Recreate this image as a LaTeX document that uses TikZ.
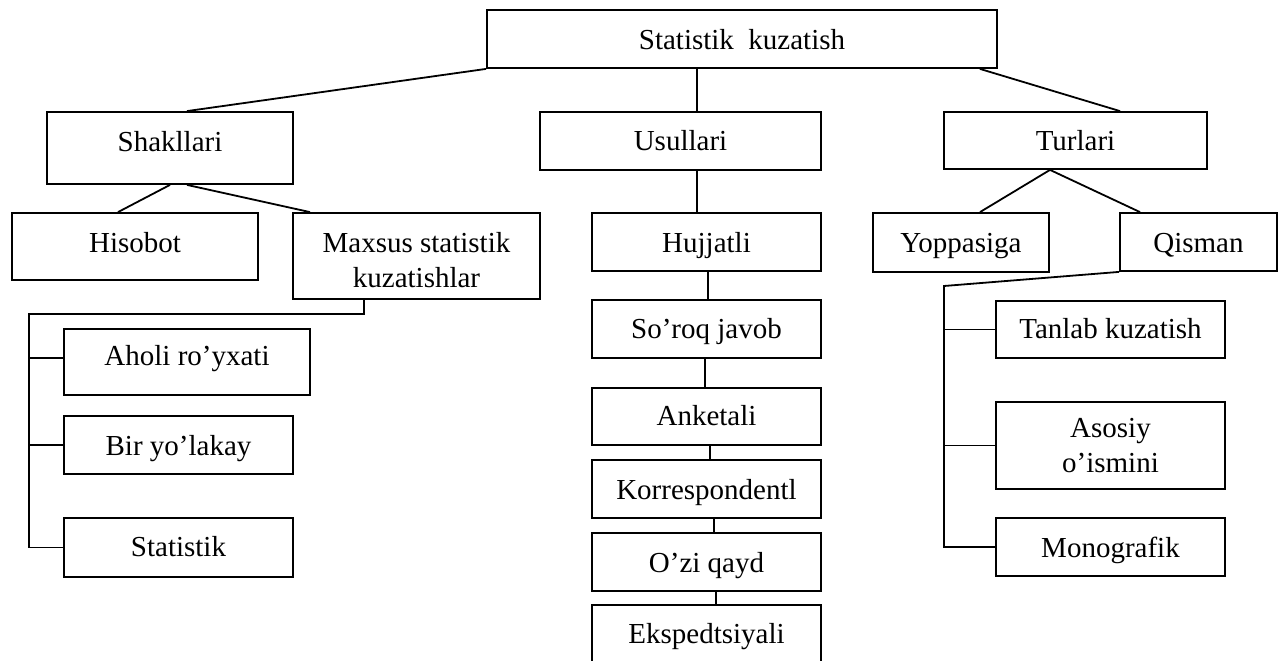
\documentclass[tikz,border=0pt]{standalone}
\usepackage{fontspec}
\setmainfont{Liberation Serif}
\begin{document}
\begin{tikzpicture}[x=1pt,y=-1pt,
  boxbase/.style={draw, line width=1.8pt, inner sep=0pt, align=center,
    font=\fontsize{29}{35}\selectfont},
  box/.style={boxbase, text height=20pt, text depth=0pt},
  conn/.style={line width=1.8pt}]
\useasboundingbox (0,0) rectangle (1280,661);
\clip (0,0) rectangle (1280,661);
\fill[white] (0,0) rectangle (1280,661);
% level 0
\node[box, text height=22pt, minimum width=510pt, minimum height=58pt] (top) at (742,39) {Statistik\ \ kuzatish};
% level 1
\node[box, text depth=14pt, minimum width=246pt, minimum height=72pt] (shak) at (170,148) {Shakllari};
\node[box, text depth=2pt, minimum width=281pt, minimum height=58pt] (usul) at (680.5,141) {Usullari};
\node[box, text depth=1pt, minimum width=263pt, minimum height=57pt] (turl) at (1075.5,140.5) {Turlari};
% level 2
\node[box, text depth=9pt, minimum width=246pt, minimum height=67pt] (hiso) at (135,246.5) {Hisobot};
\node[boxbase, text height=63pt, text depth=0pt, minimum width=247pt, minimum height=86pt] (maxs) at (416.5,256) {Maxsus statistik\\kuzatishlar};
\node[box, minimum width=229pt, minimum height=58pt] (huj) at (706.5,242) {Hujjatli};
\node[box, text depth=1pt, minimum width=176pt, minimum height=59pt] (yop) at (961,242.5) {Yoppasiga};
\node[box, minimum width=157pt, minimum height=58pt] (qis) at (1198.5,242) {Qisman};
% left column
\node[box, text depth=14pt, minimum width=246pt, minimum height=66pt] (aholi) at (187,362) {Aholi ro’yxati};
\node[box, minimum width=229pt, minimum height=58pt] (bir) at (178.5,445) {Bir yo’lakay};
\node[box, text depth=3pt, minimum width=229pt, minimum height=59pt] (stat) at (178.5,547.5) {Statistik};
% middle column
\node[box, text depth=2pt, minimum width=229pt, minimum height=58pt] (soroq) at (706.5,329) {So’roq javob};
\node[box, text depth=3pt, minimum width=229pt, minimum height=57pt] (anket) at (706.5,416.5) {Anketali};
\node[box, minimum width=229pt, minimum height=58pt] (korr) at (706.5,489) {Korrespondentl};
\node[box, minimum width=229pt, minimum height=58pt] (ozi) at (706.5,562) {O’zi qayd};
\node[box, text depth=20pt, minimum width=229pt, minimum height=76pt] (eks) at (706.5,643) {Ekspedtsiyali};
% right column
\node[box, text depth=3pt, minimum width=229pt, minimum height=57pt] (tanl) at (1110.5,329.5) {Tanlab kuzatish};
\node[boxbase, text height=53pt, text depth=0pt, minimum width=229pt, minimum height=87pt] (asos) at (1110.5,445.5) {Asosiy\\o’ismini};
\node[box, minimum width=229pt, minimum height=58pt] (mono) at (1110.5,547) {Monografik};
% spine coordinates
\coordinate (lspine) at (29,314);
\coordinate (lend) at (29,547.5);
\coordinate (rspine) at (944,286);
\coordinate (rend) at (944,547);
% connectors from top
\draw[conn] (top.south west) -- ([xshift=17pt]shak.north);
\draw[conn] ([xshift=-45pt]top.south) -- ([xshift=16.5pt]usul.north);
\draw[conn] ([xshift=-18pt]top.south east) -- ([xshift=44.5pt]turl.north);
% Shakllari
\draw[conn] (shak.south) -- ([xshift=-17pt]hiso.north);
\draw[conn] ([xshift=17pt]shak.south) -- ([xshift=-106.5pt]maxs.north);
\draw[conn] ([xshift=-52.5pt]maxs.south) |- (lspine) -- (lend) -- (stat.west);
\draw[conn] ([yshift=4pt]aholi.west -| lspine) -- ([yshift=4pt]aholi.west);
\draw[conn] (bir.west -| lspine) -- (bir.west);
% Usullari chain
\draw[conn] ([xshift=16.5pt]usul.south) -- ([xshift=-9.5pt]huj.north);
\draw[conn] ([xshift=1.5pt]huj.south) -- ([xshift=1.5pt]soroq.north);
\draw[conn] ([xshift=-1.5pt]soroq.south) -- ([xshift=-1.5pt]anket.north);
\draw[conn] ([xshift=3.5pt]anket.south) -- ([xshift=3.5pt]korr.north);
\draw[conn] ([xshift=7.5pt]korr.south) -- ([xshift=7.5pt]ozi.north);
\draw[conn] ([xshift=9.5pt]ozi.south) -- ([xshift=9.5pt]eks.north);
% Turlari
\draw[conn] ([xshift=-25.5pt]turl.south) -- ([xshift=19pt]yop.north);
\draw[conn] ([xshift=-25.5pt]turl.south) -- ([xshift=-58.5pt]qis.north);
\draw[conn] (qis.south west) -- (rspine) -- (rend) -- (mono.west);
\draw[conn] (tanl.west -| rspine) -- (tanl.west);
\draw[conn] (asos.west -| rspine) -- (asos.west);
\end{tikzpicture}
\end{document}
